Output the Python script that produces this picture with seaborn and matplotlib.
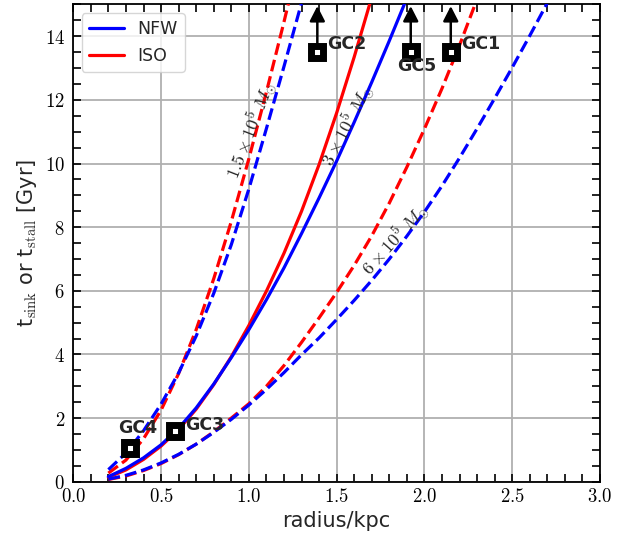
import matplotlib
matplotlib.use("Agg")
import matplotlib.pyplot as plt
import seaborn as sns
import pandas as pd
from matplotlib.ticker import MultipleLocator, FuncFormatter
from matplotlib.lines import Line2D

# ---------------- data ----------------
r_15_nfw = [0.2, 0.3, 0.4, 0.5, 0.6, 0.7, 0.8, 0.9, 1.0, 1.1, 1.2, 1.3]
t_15_nfw = [0.38, 0.9, 1.6, 2.44, 3.42, 4.58, 5.92, 7.45, 9.2, 11.1, 13.05, 15.05]

r_15_iso = [0.2, 0.3, 0.4, 0.5, 0.6, 0.7, 0.8, 0.9, 1.0, 1.1, 1.2, 1.25]
t_15_iso = [0.27, 0.68, 1.35, 2.25, 3.4, 4.78, 6.38, 8.18, 10.15, 12.25, 14.45, 15.6]

r_3_nfw = [0.2, 0.3, 0.4, 0.5, 0.6, 0.7, 0.8, 0.9, 1.0, 1.1, 1.2, 1.3, 1.4, 1.5, 1.6, 1.7, 1.8, 1.9]
t_3_nfw = [0.16, 0.42, 0.75, 1.16, 1.68, 2.32, 3.07, 3.9, 4.78, 5.72, 6.72, 7.8, 8.92, 10.08, 11.3, 12.56, 13.86, 15.2]

r_3_iso = [0.2, 0.3, 0.4, 0.5, 0.6, 0.7, 0.8, 0.9, 1.0, 1.1, 1.2, 1.3, 1.4, 1.5, 1.6, 1.7]
t_3_iso = [0.14, 0.37, 0.7, 1.12, 1.64, 2.28, 3.05, 3.93, 4.91, 5.99, 7.18, 8.5, 9.97, 11.59, 13.35, 15.23]

r_6_nfw = [0.2, 0.3, 0.4, 0.5, 0.6, 0.7, 0.8, 0.9, 1.0, 1.1, 1.2, 1.3, 1.4,
           1.5, 1.6, 1.7, 1.8, 1.9, 2.0, 2.1, 2.2, 2.3, 2.4, 2.5, 2.6, 2.7]
t_6_nfw = [0.08, 0.2, 0.37, 0.59, 0.86, 1.18, 1.55, 1.96, 2.41, 2.9, 3.43, 3.99, 4.52,
           5.1, 5.7, 6.33, 7.0, 7.72, 8.48, 9.3, 10.18, 11.1, 12.05, 13.02, 14.02, 15.05]

r_6_iso = [0.2, 0.3, 0.4, 0.5, 0.6, 0.7, 0.8, 0.9, 1.0, 1.1, 1.2, 1.3,
           1.4, 1.5, 1.6, 1.7, 1.8, 1.9, 2.0, 2.1, 2.2, 2.3]
t_6_iso = [0.07, 0.18, 0.35, 0.57, 0.85, 1.18, 1.57, 2.0, 2.45, 3.0, 3.65, 4.38,
           5.15, 5.95, 6.8, 7.73, 8.76, 9.89, 11.09, 12.36, 13.72, 15.17]

gc_names = ["GC1", "GC2", "GC3", "GC4", "GC5"]
gc_r = [2.15, 1.39, 0.582, 0.325, 1.922]
gc_t = [13.5, 13.5, 1.58, 1.05, 13.5]
gc_limit = [True, True, False, False, True]

mass_labels = [r"$1.5\times10^5\;M_{\odot}$", r"$3\times10^5\;M_{\odot}$", r"$6\times10^5\;M_{\odot}$"]
mass_label_r = [1.013, 1.561, 1.831]
mass_label_t = [11.07, 11.21, 7.63]
mass_label_rot = [68.7, 62.5, 48.2]

# ---------------- style ----------------
sns.set_style("ticks")
plt.rcParams["font.family"] = ["DejaVu Sans"]
plt.rcParams["mathtext.fontset"] = "cm"

fig = plt.figure(figsize=(6.3, 5.41), dpi=100)
ax = fig.add_axes([0.1163, 0.1096, 0.8361, 0.8821])

lw = 2.3
curves = [
    (r_15_iso, t_15_iso, "red", "--"),
    (r_15_nfw, t_15_nfw, "blue", "--"),
    (r_3_iso, t_3_iso, "red", "-"),
    (r_3_nfw, t_3_nfw, "blue", "-"),
    (r_6_iso, t_6_iso, "red", "--"),
    (r_6_nfw, t_6_nfw, "blue", "--"),
]
for rr, tt, col, ls in curves:
    df = pd.DataFrame({"r": rr, "t": tt})
    sns.lineplot(data=df, x="r", y="t", ax=ax, color=col, linestyle=ls, lw=lw,
                 estimator=None, sort=False, zorder=3)

# GC markers and arrows
for name, rr, tt, lim in zip(gc_names, gc_r, gc_t, gc_limit):
    if lim:
        ax.annotate("", xy=(rr, 14.95), xytext=(rr, tt),
                    arrowprops=dict(arrowstyle="-|>,head_length=0.45,head_width=0.23",
                                    mutation_scale=20, lw=1.8, color="black",
                                    shrinkA=0, shrinkB=0), zorder=4)
gdf = pd.DataFrame({"r": gc_r, "t": gc_t})
ax.plot(gdf["r"], gdf["t"], ls="none", marker="s", ms=9, mfc="white",
        mec="black", mew=5, zorder=5)

label_pos = {"GC1": (2.21, 13.76, "left"), "GC2": (1.448, 13.76, "left"),
             "GC5": (1.956, 13.08, "center"), "GC4": (0.366, 1.70, "center"),
             "GC3": (0.638, 1.79, "left")}
for name in gc_names:
    x, y, ha = label_pos[name]
    ax.text(x, y, name, ha=ha, va="center", fontsize=12.5, fontweight="bold", zorder=6)

for lab, x, y, rot in zip(mass_labels, mass_label_r, mass_label_t, mass_label_rot):
    ax.text(x, y, lab, rotation=rot, ha="center", va="center", fontsize=13,
            rotation_mode="anchor", zorder=6)

# axes
ax.set_xlim(0, 3.0)
ax.set_ylim(0, 15)
ax.xaxis.set_major_locator(MultipleLocator(0.5))
ax.xaxis.set_minor_locator(MultipleLocator(0.1))
ax.yaxis.set_major_locator(MultipleLocator(2))
ax.yaxis.set_minor_locator(MultipleLocator(0.5))
ax.xaxis.set_major_formatter(FuncFormatter(lambda v, p: f"${v:.1f}$"))
ax.yaxis.set_major_formatter(FuncFormatter(lambda v, p: f"${v:.0f}$"))
ax.tick_params(which="both", direction="in", top=True, right=True,
               length=6, width=1.2, colors="black", labelsize=13.5)
ax.tick_params(axis="y", pad=6)
for s in ax.spines.values():
    s.set_linewidth(1.3)
    s.set_color("black")
ax.grid(True, which="major", color="#b0b0b0", lw=1.3)
ax.set_axisbelow(True)

ax.set_xlabel("radius/kpc", fontsize=15)
ax.set_ylabel(r"t$_{\rm sink}$ or t$_{\rm stall}$ [Gyr]", fontsize=15)

handles = [Line2D([], [], color="blue", lw=lw), Line2D([], [], color="red", lw=lw)]
ax.legend(handles, ["NFW", "ISO"], loc="upper left", fontsize=12.5)

fig.savefig("out.png", dpi=100)
